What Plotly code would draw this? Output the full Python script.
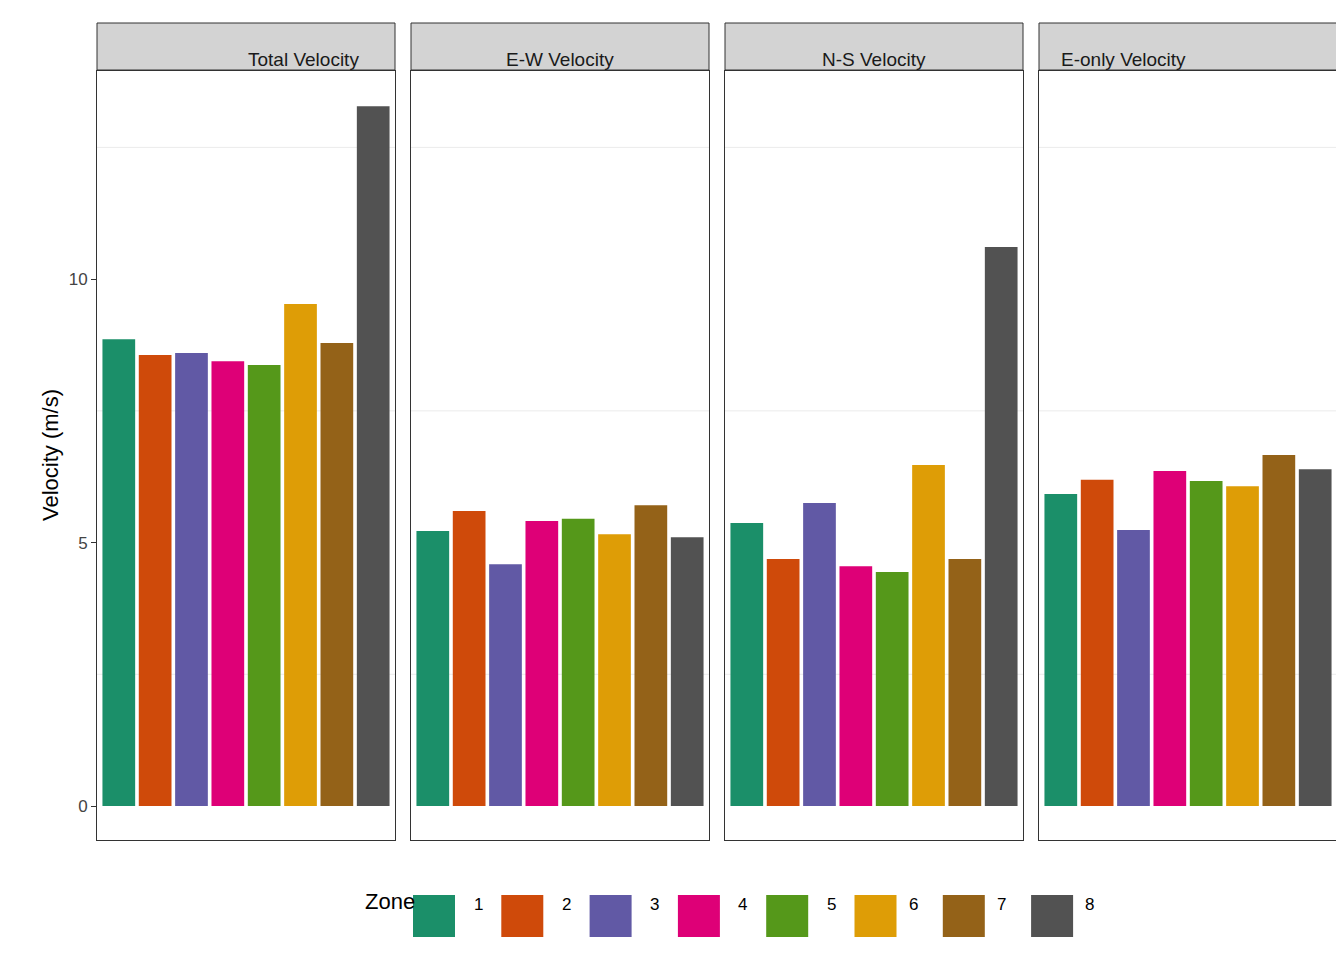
import plotly.graph_objects as go

zones = [1, 2, 3, 4, 5, 6, 7, 8]
colors = ["#1B9E77", "#D95F02", "#7570B3", "#E7298A", "#66A61E", "#E6AB02", "#A6761D", "#666666"]
colors = ["#1B8F69", "#CF4A0A", "#6159A5", "#DE0077", "#55981A", "#DE9D06", "#946218", "#525252"]
panels = ["Total Velocity", "E-W Velocity", "N-S Velocity", "E-only Velocity"]
total = [8.86, 8.56, 8.60, 8.44, 8.37, 9.53, 8.79, 13.28]
ew = [5.22, 5.60, 4.59, 5.41, 5.45, 5.16, 5.71, 5.10]
ns = [5.37, 4.69, 5.75, 4.55, 4.44, 6.47, 4.69, 10.61]
eonly = [5.92, 6.19, 5.24, 6.36, 6.17, 6.07, 6.66, 6.39]
values = [total, ew, ns, eonly]

W, H = 1344, 960
px_x = [(89, 387), (403, 701), (717, 1015), (1031, 1329)]
y0, y1 = 1 - 832 / H, 1 - 63 / H

fig = go.Figure()
layout = dict(width=W, height=H, margin=dict(l=0, r=0, t=0, b=0),
              plot_bgcolor="white", paper_bgcolor="white", bargap=0.1,
              showlegend=False, font=dict(family="Liberation Sans", size=17, color="#333"))
shapes, annots = [], []
for i, (name, vals) in enumerate(zip(panels, values)):
    ax = "" if i == 0 else str(i + 1)
    fig.add_trace(go.Bar(x=zones, y=vals, marker=dict(color=colors, line_width=0),
                         xaxis="x" + ax, yaxis="y" + ax, width=0.9))
    a, b = px_x[i]
    layout["xaxis" + ax] = dict(domain=[a / W, b / W], range=[0.4, 8.6], showticklabels=False,
                                showgrid=False, zeroline=False, ticks="", anchor="y" + ax,
                                showline=True, mirror=True, linecolor="#333", linewidth=1)
    layout["yaxis" + ax] = dict(domain=[y0, y1], range=[-0.645, 13.95], anchor="x" + ax,
                                tickvals=[0, 5, 10] if i == 0 else [], ticks="outside" if i == 0 else "",
                                ticklen=5, tickcolor="#333", tickfont=dict(size=17, color="#444"),
                                showgrid=False, zeroline=False,
                                showline=True, mirror=True, linecolor="#333", linewidth=1)
    for g in [2.5, 7.5, 12.5]:
        shapes.append(dict(type="line", xref="x" + ax, yref="y" + ax, x0=0.4, x1=8.6, y0=g, y1=g,
                           line=dict(color="#EBEBEB", width=1), layer="below"))
    shapes.append(dict(type="rect", xref="paper", yref="paper", x0=a / W, x1=b / W,
                       y0=1 - 62 / H, y1=1 - 15 / H, fillcolor="#D3D3D3", line=dict(color="#333", width=1)))
    annots.append(dict(xref="paper", yref="paper", x=(a + b) / 2 / W, y=1 - 39 / H, text=name,
                       showarrow=False, font=dict(size=19, color="#1a1a1a")))

annots.append(dict(xref="paper", yref="paper", x=28 / W, y=(y0 + y1) / 2, text="Velocity (m/s)",
                   textangle=-90, showarrow=False, font=dict(size=22, color="#000")))
annots.append(dict(xref="paper", yref="paper", x=355 / W, y=1 - 908 / H, text="Zone",
                   showarrow=False, font=dict(size=22, color="#000")))
for k, z in enumerate(zones):
    lx = 405 + 88.3 * k
    shapes.append(dict(type="rect", xref="paper", yref="paper", x0=lx / W, x1=(lx + 42) / W,
                       y0=1 - 929 / H, y1=1 - 887 / H, fillcolor=colors[k], line_width=0))
    annots.append(dict(xref="paper", yref="paper", x=(lx + 65) / W, y=1 - 908 / H, text=str(z),
                       showarrow=False, font=dict(size=17, color="#000")))
layout["shapes"] = shapes
layout["annotations"] = annots
fig.update_layout(**layout)
fig.write_html("out.html")
